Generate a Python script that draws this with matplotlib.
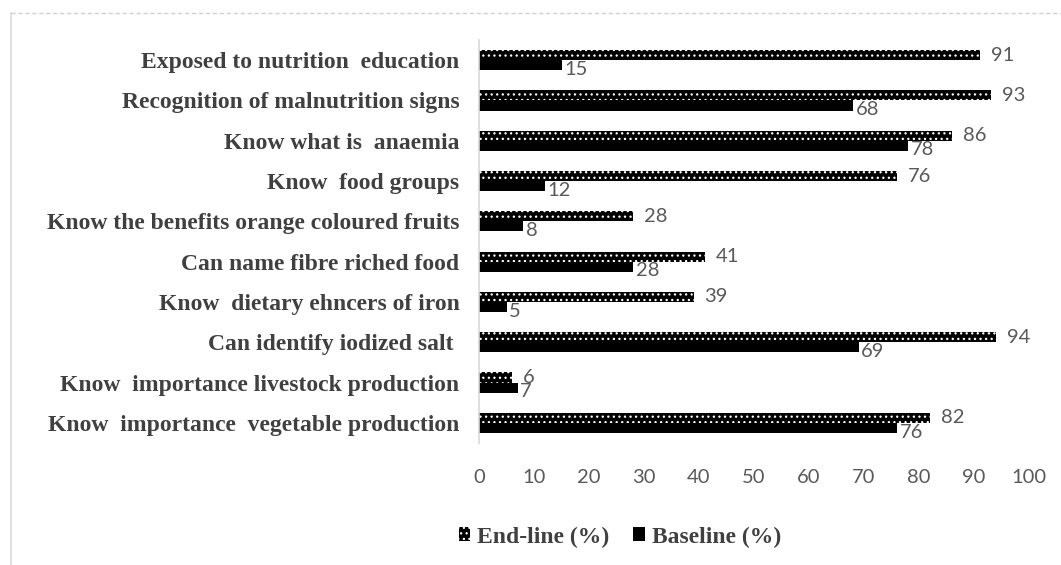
import matplotlib
matplotlib.use("Agg")
import matplotlib.pyplot as plt
from matplotlib.lines import Line2D
import numpy as np

categories = [
    "Exposed to nutrition  education",
    "Recognition of malnutrition signs",
    "Know what is  anaemia",
    "Know  food groups",
    "Know the benefits orange coloured fruits",
    "Can name fibre riched food",
    "Know  dietary ehncers of iron",
    "Can identify iodized salt ",
    "Know  importance livestock production",
    "Know  importance  vegetable production",
]
endline = [91, 93, 86, 76, 28, 41, 39, 94, 6, 82]
baseline = [15, 68, 78, 12, 8, 28, 5, 69, 7, 76]
xticks = [0, 10, 20, 30, 40, 50, 60, 70, 80, 90, 100]
series_names = ["End-line (%)", "Baseline (%)"]

plt.rcParams['hatch.color'] = 'white'
plt.rcParams['hatch.linewidth'] = 0.9

W, H = 1061, 565
fig = plt.figure(figsize=(W / 100, H / 100), dpi=100)
ax = fig.add_axes([479 / W, 1 - 443 / H, (1029 - 479) / W, (443 - 40) / H])

n = len(categories)
y = np.arange(n)
h = 0.25
b1 = ax.barh(y - h / 2, endline, height=h, color='black', hatch='...',
             linewidth=0, label=series_names[0])
b2 = ax.barh(y + h / 2, baseline, height=h, color='black', linewidth=0,
             label=series_names[1])

ax.set_xlim(0, 100)
ax.set_ylim(n - 0.5, -0.5)
ax.set_yticks(y)
ax.set_yticklabels(categories, fontfamily='Liberation Serif', fontweight='bold',
                   fontsize=17, color='#404040')
ax.set_xticks(xticks)
ax.set_xticklabels([str(t) for t in xticks], fontfamily='Lato', fontsize=14.5,
                   color='#595959')
ax.tick_params(axis='both', length=0)
ax.tick_params(axis='y', pad=14)
ax.tick_params(axis='x', pad=19)
for s in ['top', 'right', 'bottom']:
    ax.spines[s].set_visible(False)
ax.spines['left'].set_color('#d9d9d9')
ax.spines['left'].set_linewidth(1.2)

lab_kw = dict(fontfamily='Lato', fontsize=14.5, color='#595959', va='center', ha='left')
for yi, v in zip(y, endline):
    ax.annotate(str(v), (v, yi - h / 2), xytext=(8, 0), textcoords='offset points', **lab_kw)
for yi, v in zip(y, baseline):
    ax.annotate(str(v), (v, yi + h / 2), xytext=(2, -3), textcoords='offset points', **lab_kw)

leg = fig.legend(handles=[b1, b2], labels=series_names, loc='center',
                 bbox_to_anchor=(620 / W, 1 - 537 / H), ncol=2, frameon=False,
                 prop={'family': 'Liberation Serif', 'weight': 'bold', 'size': 17},
                 handlelength=0.5, handleheight=0.5, handletextpad=0.3,
                 columnspacing=1.0)
for t in leg.get_texts():
    t.set_color('#404040')

# outer chart frame (partially visible)
fig.add_artist(Line2D([11 / W, 11 / W], [0, 1 - 13 / H], transform=fig.transFigure,
                      color='#d9d9d9', linewidth=1.2))
fig.add_artist(Line2D([11 / W, 1], [1 - 13 / H, 1 - 13 / H], transform=fig.transFigure,
                      color='#d0d0d0', linewidth=1.0, linestyle=(0, (3, 2))))

fig.savefig("out.png", dpi=100)
